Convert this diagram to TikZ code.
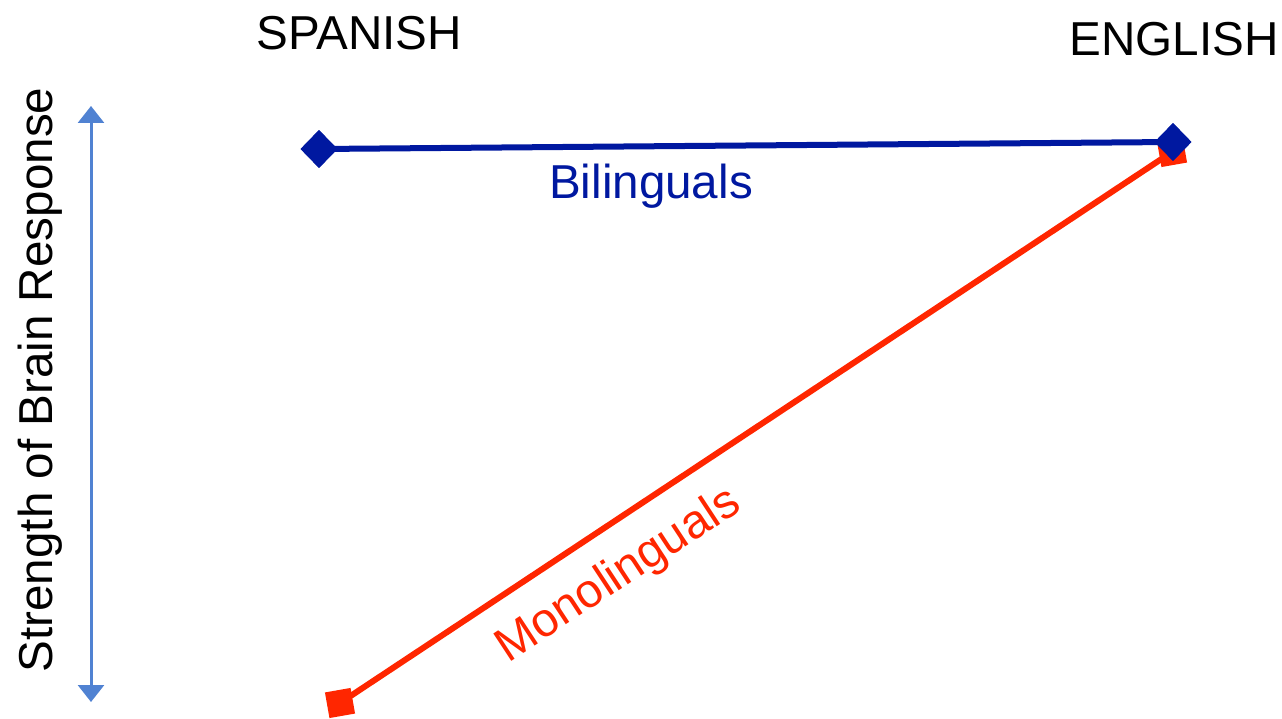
\documentclass[tikz,border=0pt]{standalone}
\usepackage{fontspec}
\setmainfont{Liberation Sans}
\usetikzlibrary{arrows.meta,shapes.geometric}
\definecolor{bblue}{RGB}{0,24,160}
\definecolor{rred}{RGB}{255,38,0}
\definecolor{ablue}{RGB}{80,130,210}
\tikzset{
  lbl/.style={font=\fontsize{47.6}{52}\selectfont, inner sep=0pt},
  dmark/.style={diamond, fill=bblue, minimum width=37pt, minimum height=38pt, inner sep=0pt},
  smark/.style={rectangle, fill=rred, minimum size=26pt, inner sep=0pt},
}
\begin{document}
\begin{tikzpicture}[x=1pt,y=-1pt]
\useasboundingbox (0,0) rectangle (1282,719);
% axis arrow
\coordinate (atop) at (91,106);
\coordinate (abot) at (91,702);
\draw[ablue, line width=3pt, {Triangle[width=26pt,length=17pt]}-{Triangle[width=26pt,length=17pt]}] (atop) -- (abot);
\node[lbl, rotate=90] (ylab) at (40,380) {Strength of Brain Response};
% titles
\node[lbl] (sp) at (359,33) {SPANISH};
\node[lbl] (en) at (1174,39) {ENGLISH};
% red line
\node[smark, rotate=10] (r1) at (340,703) {};
\node[smark, rotate=10] (r2) at (1172,152) {};
\draw[rred, line width=6pt] (r1.center) -- (r2.center);
% blue line
\node[dmark] (b1) at (319,149) {};
\node[dmark] (b2) at (1173,142) {};
\draw[bblue, line width=6pt] (b1.center) -- (b2.center);
\node[dmark] at (319,149) {};
\node[dmark] at (1173,142) {};
% labels
\node[lbl, text=bblue] (bil) at (651,186) {Bilinguals};
\node[lbl, text=rred, rotate=33.3] (mono) at (619,576) {Monolinguals};
\end{tikzpicture}
\end{document}
